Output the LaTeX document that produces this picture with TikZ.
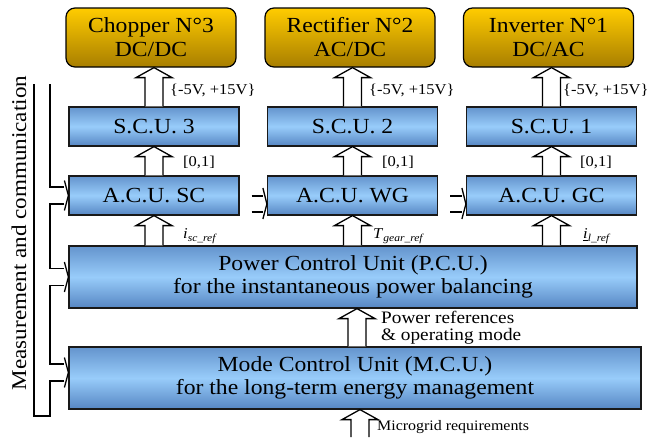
\documentclass[tikz,border=0pt]{standalone}
\usepackage{fontspec}
\setmainfont{Liberation Serif}[FakeStretch=1.1]
\usetikzlibrary{calc}

\definecolor{goldtop}{RGB}{255,204,0}
\definecolor{goldbot}{RGB}{168,126,0}
\definecolor{bluetop}{RGB}{100,148,205}
\definecolor{bluemid}{RGB}{152,204,250}
\definecolor{bluebot}{RGB}{86,134,195}

% wide hollow arrow, from #1 (tail) up to #2 (tip)
\newcommand{\hollowarr}[2]{%
  \draw[harrow] let \p1=(#1), \p2=(#2) in
    (\x1-9pt,\y1) -- (\x1-9pt,\y2-10pt) -- (\x1-18pt,\y2-10pt) -- (\x1,\y2)
    -- (\x1+18pt,\y2-10pt) -- (\x1+9pt,\y2-10pt) -- (\x1+9pt,\y1);}

\begin{document}
\begin{tikzpicture}[x=1pt,y=-1pt,
  goldbox/.style={draw=black,line width=1.2pt,rounded corners=9pt,
    top color=goldtop,bottom color=goldbot,minimum width=170pt,minimum height=59pt,
    inner sep=0pt,align=center,font=\fontsize{21.5}{24}\selectfont},
  bluebox/.style={draw=black!90,line width=1.2pt,top color=bluetop,bottom color=bluebot,
    middle color=bluemid,minimum width=170pt,minimum height=39pt,
    inner sep=0pt,align=center,font=\fontsize{21.5}{23}\selectfont},
  harrow/.style={draw=black,fill=white,line width=1.3pt},
  bus/.style={draw=black,line width=1.3pt},
  lbl/.style={inner sep=0pt,anchor=west,font=\fontsize{15}{17}\selectfont}]
  \useasboundingbox (0,0) rectangle (653,437);

  % converters
  \node[goldbox] (chop) at (151,37.5)   {Chopper N°3\\DC/DC};
  \node[goldbox] (rect) at (350,37.5)   {Rectifier N°2\\AC/DC};
  \node[goldbox] (inv)  at (548.5,37.5) {Inverter N°1\\DC/AC};

  % switching control units
  \node[bluebox] (scu3) at (154,126.5)   {S.C.U. 3};
  \node[bluebox] (scu2) at (352.5,126.5) {S.C.U. 2};
  \node[bluebox] (scu1) at (551.5,126.5) {S.C.U. 1};

  % automatic control units
  \node[bluebox] (acusc) at (154,195.5)   {A.C.U. SC};
  \node[bluebox] (acuwg) at (352.5,195.5) {A.C.U. WG};
  \node[bluebox] (acugc) at (551.5,195.5) {A.C.U. GC};

  \node[bluebox,minimum width=568pt,minimum height=62pt] (pcu) at (353,277)
    {Power Control Unit (P.C.U.)\\for the instantaneous power balancing};
  \node[bluebox,minimum width=572pt,minimum height=62pt] (mcu) at (355,378)
    {Mode Control Unit (M.C.U.)\\for the long-term energy management};

  \node[rotate=90,font=\fontsize{21}{24}\selectfont] (meas) at (19,233) {Measurement and communication};

  % arrows up
  \foreach \lo/\hi in {scu3/chop, scu2/rect, scu1/inv, acusc/scu3, acuwg/scu2, acugc/scu1}
    \hollowarr{\lo.north}{\hi.south};
  \foreach \hi in {acusc, acuwg, acugc}
    \hollowarr{\hi.south |- pcu.north}{\hi.south};
  \hollowarr{[xshift=2pt]mcu.north}{[xshift=2pt]pcu.south};
  \coordinate (grid) at (360,437);
  \hollowarr{grid}{grid |- mcu.south};

  % labels
  \node[lbl] (v3) at (170,90) {\{-5V, +15V\}};
  \node[lbl] (v2) at (369,90) {\{-5V, +15V\}};
  \node[lbl] (v1) at (563,90) {\{-5V, +15V\}};
  \node[lbl] (d3) at (183,162) {[0,1]};
  \node[lbl] (d2) at (382,162) {[0,1]};
  \node[lbl] (d1) at (580,162) {[0,1]};
  \node[lbl] (isc) at (183,236) {\textit{i}\textsubscript{\textit{sc\_ref}}};
  \node[lbl] (tg)  at (373,236) {\textit{T}\textsubscript{\textit{gear\_ref}}};
  \node[lbl] (il)  at (583,236) {\underline{\textit{i}}\textsubscript{\textit{l\_ref}}};
  \node[lbl,align=left,font=\fontsize{17.5}{17}\selectfont] (pref) at (381,328)
    {Power references\\\& operating mode};
  \node[lbl,font=\fontsize{14.5}{17}\selectfont] (mreq) at (377,427) {Microgrid requirements};

  % measurement bus
  \coordinate (bustop) at (34,84);
  \coordinate (busin)  at (50,84);
  \coordinate (busend) at (34,416);
  \foreach \n/\cy in {acusc/0, pcu/0, mcu/5.5} {
    \coordinate (\n-u) at ([xshift=-4pt,yshift=\cy pt+8.5pt]\n.west);
    \coordinate (\n-d) at ([xshift=-4pt,yshift=\cy pt-8.5pt]\n.west);
    \draw[bus] ([xshift=-4pt,yshift=\cy pt+15pt]\n.west) -- ([yshift=\cy pt]\n.west)
      -- ([xshift=-4pt,yshift=\cy pt-15pt]\n.west);
  }
  \draw[bus] (busin) |- (acusc-u);
  \draw[bus] (acusc-d) -| (busin |- pcu-u) -- (pcu-u);
  \draw[bus] (pcu-d) -| (busin |- mcu-u) -- (mcu-u);
  \draw[bus] (mcu-d) -| (busin |- busend) -- (busend) -- (bustop);

  % links between A.C.U.s
  \foreach \l/\r in {acusc/acuwg, acuwg/acugc} {
    \draw[bus] ([xshift=12pt,yshift=-0.5pt]\l.east) -- ([xshift=-4pt,yshift=-0.5pt]\r.west);
    \draw[bus] ([xshift=12pt,yshift=-16.5pt]\l.east) -- ([xshift=-4pt,yshift=-16.5pt]\r.west);
    \draw[bus] ([xshift=-4pt,yshift=7.5pt]\r.west) -- ([yshift=-8.5pt]\r.west)
      -- ([xshift=-4pt,yshift=-23.5pt]\r.west);
  }
\end{tikzpicture}
\end{document}
